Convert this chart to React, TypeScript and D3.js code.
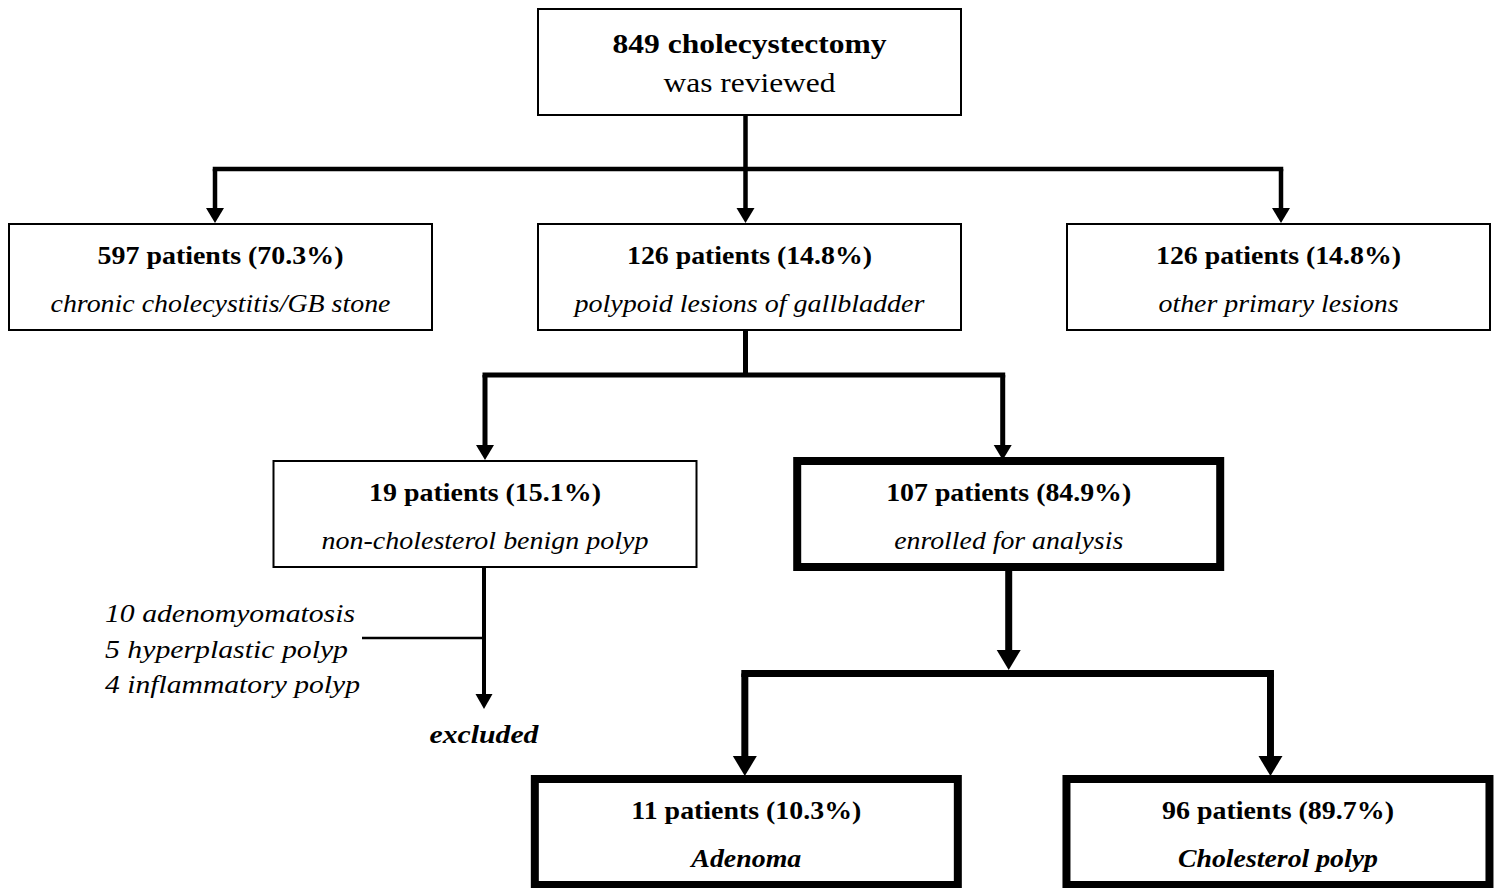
import * as d3 from 'd3';

// flow counts
const counts = [849, 597, 126, 126, 19, 107, 11, 96];
const percents = [null, 70.3, 14.8, 14.8, 15.1, 84.9, 10.3, 89.7];
const subLabels = [
  'was reviewed',
  'chronic cholecystitis/GB stone',
  'polypoid lesions of gallbladder',
  'other primary lesions',
  'non-cholesterol benign polyp',
  'enrolled for analysis',
  'Adenoma',
  'Cholesterol polyp',
];
const excludedCounts = [10, 5, 4];
const excludedTypes = ['adenomyomatosis', 'hyperplastic polyp', 'inflammatory polyp'];
const excludedLabel = 'excluded';

// layout (column units / row index), kept apart from the values
const nodeCol = [1, 0, 1, 2, 0.5, 1.49, 0.994, 1.999];
const nodeRow = [0, 1, 1, 1, 2, 2, 3, 3];
const nodeHeavy = [false, false, false, false, false, true, true, true];
const arrowDx = [0, -5.5, -4, 2.5, 0, -6, -1.5, -7.5];
// the source image is stretched sideways, so text widths are fitted
const titleLen = [274, 246, 245, 245, 232, 245, 230, 232];
const subLen = [172, 340, 350, 240, 327, 229, 110, 200];
const excludedLen = [250, 243, 255];

const W = 1501, H = 888;
const FONT = '"Liberation Serif", "Times New Roman", serif';

const x = d3.scaleLinear().domain([0, 2]).range([220.5, 1278.5]);
const rowTop = d3.scaleOrdinal<number, number>().domain([0, 1, 2, 3]).range([9, 224, 461, 779]);
const BOX_W = 423;
const BOX_H = 106;

const arrowHead = (cx: number, tipY: number, w: number, h: number) =>
  `M${cx - w / 2},${tipY - h}L${cx + w / 2},${tipY - h}L${cx},${tipY}Z`;

const Box = ({ i }: { i: number }) => {
  const cx = x(nodeCol[i]);
  const top = rowTop(nodeRow[i]);
  const heavy = nodeHeavy[i];
  const sw = heavy ? 8 : 2;
  const first = i === 0;
  const title = first ? `${counts[i]} cholecystectomy` : `${counts[i]} patients (${percents[i]}%)`;
  return (
    <g>
      <rect x={cx - BOX_W / 2} y={top} width={BOX_W} height={BOX_H} fill="#fff" stroke="#000" strokeWidth={sw} />
      <text
        x={cx}
        y={top + (first ? 44 : 40)}
        textAnchor="middle"
        fontWeight="bold"
        fontSize={first ? 27 : 25}
        textLength={titleLen[i]}
        lengthAdjust="spacingAndGlyphs"
      >
        {title}
      </text>
      <text
        x={cx}
        y={top + (first ? 83 : 88)}
        textAnchor="middle"
        fontStyle={first ? 'normal' : 'italic'}
        fontWeight={nodeRow[i] === 3 ? 'bold' : 'normal'}
        fontSize={first ? 27 : 25}
        textLength={subLen[i]}
        lengthAdjust="spacingAndGlyphs"
      >
        {subLabels[i]}
      </text>
    </g>
  );
};

// parent -> bus -> children with arrowheads
const Split = ({ from, to, busY, sw, head }: { from: number; to: number[]; busY: number; sw: number; head: [number, number] }) => {
  const px = x(nodeCol[from]) - 4;
  const py = rowTop(nodeRow[from]) + BOX_H;
  const cxs = to.map(t => x(nodeCol[t]) + arrowDx[t]);
  const childTop = rowTop(nodeRow[to[0]]) - (nodeHeavy[to[0]] ? 4 : 1);
  return (
    <g>
      <line x1={px} x2={px} y1={py} y2={busY} stroke="#000" strokeWidth={sw} />
      <line x1={d3.min(cxs)! - sw / 2} x2={d3.max(cxs)! + sw / 2} y1={busY} y2={busY} stroke="#000" strokeWidth={sw} />
      {cxs.map((c, k) => (
        <g key={k}>
          <line x1={c} x2={c} y1={busY} y2={childTop - head[1] + 1} stroke="#000" strokeWidth={sw} />
          <path d={arrowHead(c, childTop, head[0], head[1])} fill="#000" />
        </g>
      ))}
    </g>
  );
};

export default function App() {
  const exX = x(nodeCol[4]) - 1;
  const exTop = rowTop(nodeRow[4]) + BOX_H;
  const c5 = x(nodeCol[5]);
  const busX = [6, 7].map(t => x(nodeCol[t]) + arrowDx[t]);
  return (
    <svg width={W} height={H} style={{ display: 'block', position: 'absolute', left: 0, top: 0 }} fontFamily={FONT}>
      <rect width={W} height={H} fill="#fff" />
      <Split from={0} to={[1, 2, 3]} busY={169} sw={4.5} head={[18, 15]} />
      <Split from={2} to={[4, 5]} busY={375} sw={5} head={[18, 15]} />

      {/* enrolled -> bus with its own arrowhead */}
      <line x1={c5} x2={c5} y1={570} y2={652} stroke="#000" strokeWidth={7} />
      <path d={arrowHead(c5, 670, 24, 20)} fill="#000" />
      <line x1={busX[0] - 3.5} x2={busX[1] + 3.5} y1={673.5} y2={673.5} stroke="#000" strokeWidth={7} />
      {busX.map((c, k) => (
        <g key={k}>
          <line x1={c} x2={c} y1={673.5} y2={757} stroke="#000" strokeWidth={7} />
          <path d={arrowHead(c, 776, 24, 20)} fill="#000" />
        </g>
      ))}

      {/* excluded branch */}
      <line x1={exX} x2={exX} y1={exTop} y2={694} stroke="#000" strokeWidth={4} />
      <path d={arrowHead(exX, 709, 17, 15)} fill="#000" />
      <line x1={362} x2={exX} y1={638} y2={638} stroke="#000" strokeWidth={2.5} />
      {excludedCounts.map((n, k) => (
        <text
          key={k}
          x={105}
          y={622 + k * 35.5}
          fontStyle="italic"
          fontSize={26}
          textLength={excludedLen[k]}
          lengthAdjust="spacingAndGlyphs"
        >
          {`${n} ${excludedTypes[k]}`}
        </text>
      ))}
      <text
        x={exX}
        y={743}
        textAnchor="middle"
        fontStyle="italic"
        fontWeight="bold"
        fontSize={26}
        textLength={109}
        lengthAdjust="spacingAndGlyphs"
      >
        {excludedLabel}
      </text>

      {counts.map((_, i) => (
        <Box key={i} i={i} />
      ))}
    </svg>
  );
}
